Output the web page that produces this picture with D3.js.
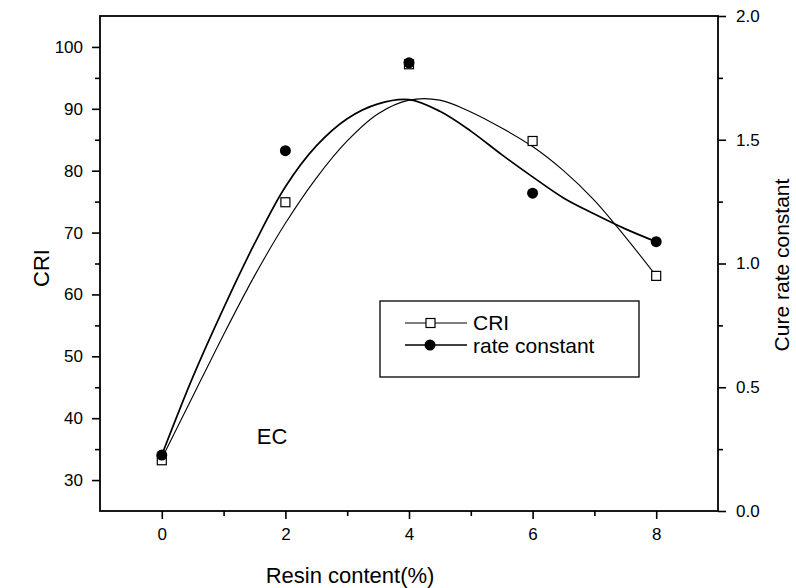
<!DOCTYPE html>
<html>
<head>
<meta charset="utf-8">
<script src="https://cdn.jsdelivr.net/npm/d3@7"></script>
<style>
  body { margin: 0; background: #fff; }
  svg text { font-family: "Liberation Sans", Arial, sans-serif; fill: #000; }
</style>
</head>
<body>
<svg id="container"></svg>
<script>
// measured points
const resin = [0, 2, 4, 6, 8];
const cri = [33.2, 74.9, 97.2, 84.8, 63.0];
const rateConst = [0.226, 1.456, 1.811, 1.284, 1.088];

// fitted curves
const fitX = [0, 0.5, 1, 1.5, 2, 2.5, 3, 3.5, 4, 4.5, 5, 5.5, 6, 6.5, 7, 7.5, 8];
const criFit = [33.5, 43.5, 53.5, 63, 71.5, 78.8, 84.8, 89.2, 91.4, 91.4, 89.5, 86.9, 83.9, 80.0, 75.2, 69.3, 63.0];
const rateFit = [0.226, 0.54, 0.82, 1.08, 1.31, 1.475, 1.585, 1.645, 1.662, 1.615, 1.535, 1.44, 1.35, 1.265, 1.2, 1.14, 1.088];

const xTicks = [0, 2, 4, 6, 8];
const criTicks = [30, 40, 50, 60, 70, 80, 90, 100];
const rateTicks = [0, 0.5, 1.0, 1.5, 2.0];

const width = 796, height = 588;
const mLeft = 100, mRight = 718, mTop = 16, mBottom = 511;

const svg = d3.select("#container")
    .attr("width", width)
    .attr("height", height);

const x = d3.scaleLinear().domain([-1, 9]).range([mLeft, mRight]);
const yL = d3.scaleLinear().domain([25, 105]).range([mBottom, mTop]);
const yR = d3.scaleLinear().domain([0, 2]).range([mBottom, mTop]);

// axes
const xAxis = d3.axisBottom(x).tickValues(xTicks).tickSize(8).tickFormat(d3.format("d"));
const xMinor = d3.axisBottom(x).tickValues([1, 3, 5, 7]).tickSize(5).tickFormat("");
const lAxis = d3.axisLeft(yL).tickValues(criTicks).tickSize(8);
const lMinor = d3.axisLeft(yL).tickValues([35, 45, 55, 65, 75, 85, 95]).tickSize(5).tickFormat("");
const rAxis = d3.axisRight(yR).tickValues(rateTicks).tickSize(8).tickFormat(d3.format(".1f"));
const rMinor = d3.axisRight(yR).tickValues([0.25, 0.75, 1.25, 1.75]).tickSize(5).tickFormat("");

function styleAxis(g) {
  g.selectAll("path").remove();
  g.selectAll("line").attr("stroke", "#000").attr("stroke-width", 1.6);
  g.selectAll("text").attr("font-size", 17).attr("fill", "#000");
}

svg.append("g").attr("transform", `translate(0,${mBottom})`).call(xAxis).call(styleAxis)
  .selectAll("text").attr("dy", "1.05em");
svg.append("g").attr("transform", `translate(0,${mBottom})`).call(xMinor).call(styleAxis);
svg.append("g").attr("transform", `translate(${mLeft},0)`).call(lAxis).call(styleAxis)
  .selectAll("text").attr("x", -17);
svg.append("g").attr("transform", `translate(${mLeft},0)`).call(lMinor).call(styleAxis);
svg.append("g").attr("transform", `translate(${mRight},0)`).call(rAxis).call(styleAxis)
  .selectAll("text").attr("x", 18);
svg.append("g").attr("transform", `translate(${mRight},0)`).call(rMinor).call(styleAxis);

// frame
svg.append("rect")
    .attr("x", mLeft).attr("y", mTop)
    .attr("width", mRight - mLeft).attr("height", mBottom - mTop)
    .attr("fill", "none").attr("stroke", "#000").attr("stroke-width", 1.8);

// axis titles
svg.append("text").attr("x", 350).attr("y", 583).attr("text-anchor", "middle")
    .attr("font-size", 22).text("Resin content(%)");
svg.append("text").attr("transform", "translate(49,268) rotate(-90)").attr("text-anchor", "middle")
    .attr("font-size", 22).text("CRI");
svg.append("text").attr("transform", "translate(789,265) rotate(-90)").attr("text-anchor", "middle")
    .attr("font-size", 21).text("Cure rate constant");

svg.append("text").attr("x", 272).attr("y", 444).attr("text-anchor", "middle")
    .attr("font-size", 22).text("EC");

// fit curves
const criLine = d3.line().x((d, i) => x(fitX[i])).y(d => yL(d)).curve(d3.curveCatmullRom);
const rateLine = d3.line().x((d, i) => x(fitX[i])).y(d => yR(d)).curve(d3.curveCatmullRom);

svg.append("path").datum(criFit).attr("d", criLine)
    .attr("fill", "none").attr("stroke", "#000").attr("stroke-width", 1.1);
svg.append("path").datum(rateFit).attr("d", rateLine)
    .attr("fill", "none").attr("stroke", "#000").attr("stroke-width", 1.7);

// markers
svg.selectAll(".sq").data(cri).enter().append("rect")
    .attr("class", "sq")
    .attr("x", (d, i) => x(resin[i]) - 4.5).attr("y", d => yL(d) - 4.5)
    .attr("width", 9).attr("height", 9)
    .attr("fill", "#fff").attr("stroke", "#000").attr("stroke-width", 1.2);
svg.selectAll(".dot").data(rateConst).enter().append("circle")
    .attr("class", "dot")
    .attr("cx", (d, i) => x(resin[i])).attr("cy", d => yR(d))
    .attr("r", 5.5).attr("fill", "#000");

// legend
const lg = svg.append("g");
lg.append("rect").attr("x", 380).attr("y", 301).attr("width", 259).attr("height", 76)
    .attr("fill", "#fff").attr("stroke", "#000").attr("stroke-width", 1.3);
lg.append("line").attr("x1", 405).attr("x2", 467).attr("y1", 323).attr("y2", 323)
    .attr("stroke", "#000").attr("stroke-width", 1.1);
lg.append("rect").attr("x", 426).attr("y", 318.5).attr("width", 9).attr("height", 9)
    .attr("fill", "#fff").attr("stroke", "#000").attr("stroke-width", 1.2);
lg.append("text").attr("x", 473).attr("y", 330).attr("font-size", 21).text("CRI");
lg.append("line").attr("x1", 405).attr("x2", 467).attr("y1", 345).attr("y2", 345)
    .attr("stroke", "#000").attr("stroke-width", 1.7);
lg.append("circle").attr("cx", 430).attr("cy", 345).attr("r", 5.5).attr("fill", "#000");
lg.append("text").attr("x", 473).attr("y", 353).attr("font-size", 21).text("rate constant");
</script>
</body>
</html>
